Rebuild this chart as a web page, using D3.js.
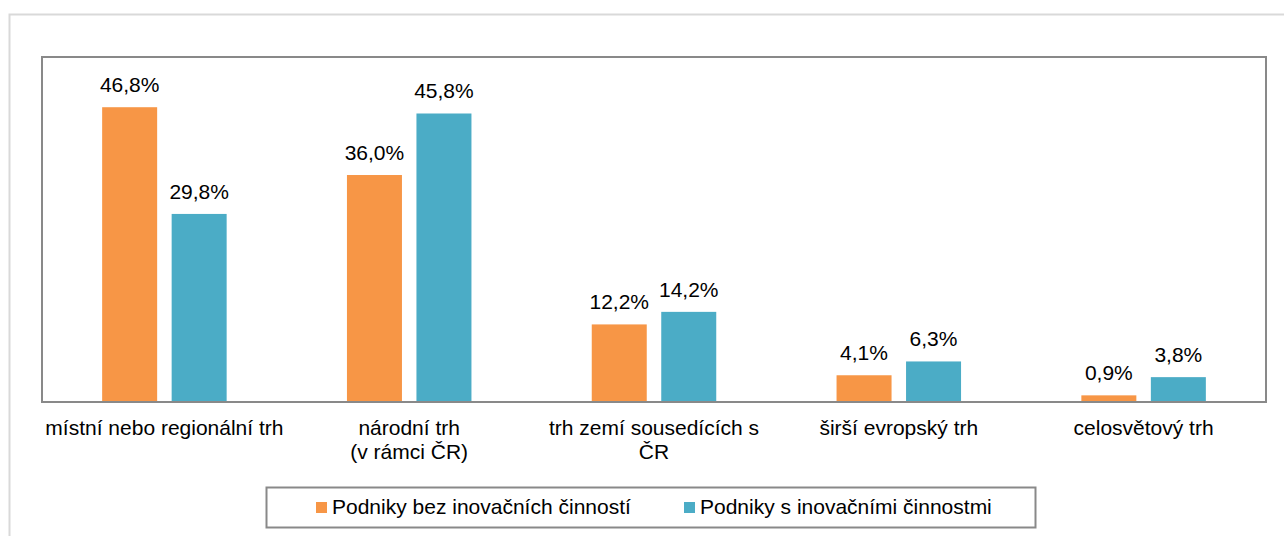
<!DOCTYPE html>
<html><head><meta charset="utf-8">
<script src="https://cdn.jsdelivr.net/npm/d3@7"></script>
<style>body{margin:0;background:#fff}svg{display:block;font-family:"Liberation Sans",Arial,sans-serif}</style>
</head><body><svg id="c" width="1284" height="536"></svg>
<script>
const categories = [["místní nebo regionální trh"],["národní trh","(v rámci ČR)"],["trh zemí sousedících s","ČR"],["širší evropský trh"],["celosvětový trh"]];
const seriesNames = ["Podniky bez inovačních činností","Podniky s inovačními činnostmi"];
const withoutInnov = [46.8,36.0,12.2,4.1,0.9];
const withInnov = [29.8,45.8,14.2,6.3,3.8];
const colors = ["#F79646","#4BACC6"];

const svg = d3.select("#c");
const L=42,R=1266,T=57,B=401;
const FS=21;
// outer frame
svg.append("rect").attr("x",9.5).attr("y",14.5).attr("width",1290).attr("height",540).attr("fill","none").attr("stroke","#d9d9d9").attr("stroke-width",2);

const x0 = d3.scaleBand().domain(d3.range(categories.length)).range([L,R]).paddingInner(0).paddingOuter(0);
const y = d3.scaleLinear().domain([0,54.8]).range([B,T]);
const bw=55, gap=14.5;
const series=[withoutInnov,withInnov];
const g=svg.append("g");
series.forEach((vals,si)=>{
  vals.forEach((v,i)=>{
    const cx = x0(i)+x0.bandwidth()/2;
    const bx = si===0 ? cx-gap/2-bw : cx+gap/2;
    g.append("rect").attr("x",bx).attr("y",y(v)).attr("width",bw).attr("height",B-y(v)).attr("fill",colors[si]);
    g.append("text").attr("x",bx+bw/2).attr("y",y(v)-15).attr("text-anchor","middle").attr("font-size",FS).attr("fill","#000")
      .text(d3.format(".1f")(v).replace(".",",")+"%");
  });
});
// plot frame
svg.append("rect").attr("x",L).attr("y",T).attr("width",R-L).attr("height",B-T+1).attr("fill","none").attr("stroke","#898989").attr("stroke-width",2);
// category labels
categories.forEach((lines,i)=>{
  const cx=x0(i)+x0.bandwidth()/2;
  const t=svg.append("text").attr("text-anchor","middle").attr("font-size",FS).attr("fill","#000");
  lines.forEach((ln,k)=>t.append("tspan").attr("x",cx).attr("y",435+k*24).text(ln));
});
// legend
svg.append("rect").attr("x",266.5).attr("y",487.5).attr("width",769).attr("height",40).attr("fill","#fff").attr("stroke","#898989").attr("stroke-width",2);
const legX=[316,684];
seriesNames.forEach((n,i)=>{
  svg.append("rect").attr("x",legX[i]).attr("y",502).attr("width",11).attr("height",11).attr("fill",colors[i]);
  svg.append("text").attr("x",legX[i]+16).attr("y",514).attr("font-size",FS).attr("fill","#000").text(n);
});
</script></body></html>
